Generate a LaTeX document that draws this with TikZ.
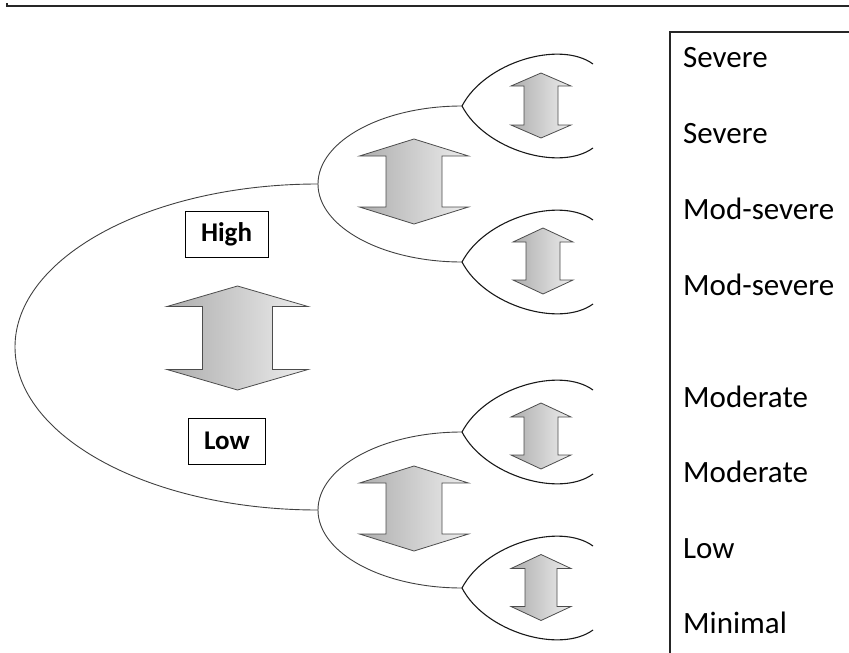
\documentclass[tikz,border=0pt]{standalone}
\usepackage{fontspec}
\setmainfont{Carlito}
\usetikzlibrary{calc}
\tikzstyle{frame}=[draw=black!85, line width=1.2pt]
\tikzstyle{branch}=[draw=black!75, line width=0.9pt]
\tikzstyle{leaf}=[draw=black!90, line width=1.1pt]
\tikzstyle{updown}=[draw=black!70, line width=0.8pt, left color=black!32, right color=black!7]
\tikzstyle{levelbox}=[draw=black, line width=0.9pt, inner xsep=16pt, minimum height=46pt, font=\bfseries\fontsize{27}{31}\selectfont]
\tikzstyle{grade}=[anchor=base west, inner sep=0pt, font=\fontsize{31}{37}\selectfont]

\begin{document}
\begin{tikzpicture}[x=1pt, y=-1pt]
    \useasboundingbox (0,0) rectangle (849,653);

    % frame lines
    \draw[frame] (7,3) -- (7,6) -- (849,6);
    \draw[frame] (670,653) -- (670,32) -- (849,32);

    % branch points
    \foreach \x/\y/\name in {15/347/root, 318/184/H, 318/510/L, 462/106/HH, 462/262/HL, 462/432/LH, 462/588/LL}
        \coordinate (\name) at (\x,\y);

    % first split
    \draw[branch] (H) .. controls ($(H)+(-167.3,0)$) and ($(root)+(0,-90)$) .. (root)
                      .. controls ($(root)+(0,90)$) and ($(L)+(-167.3,0)$) .. (L);

    % second split
    \foreach \top/\mid/\bot in {HH/H/HL, LH/L/LL}
        \draw[branch] (\top) .. controls ($(\top)+(-79.5,0)$) and ($(\mid)+(0,-43)$) .. (\mid)
                             .. controls ($(\mid)+(0,43)$) and ($(\bot)+(-79.5,0)$) .. (\bot);

    % third split
    \foreach \t in {HH, HL, LH, LL}
        \draw[leaf] ($(\t)+(131,-42)$) .. controls ($(\t)+(98,-66)$) and ($(\t)+(23,-44)$) .. (\t)
                    .. controls ($(\t)+(23,44)$) and ($(\t)+(98,66)$) .. ($(\t)+(131,42)$);

    % up-down arrows
    \foreach \cx/\cy/\len/\hw/\sw/\hh in {237.5/338/52/70.5/35/20.5, 414/181.5/42.5/54.5/28/17, 414/508.5/42.5/54.5/28/17,
                                          541/105.5/32.5/30/17/13, 543/261/33/30/17/14, 541/436/33/30/17/14, 541/587.5/33/30/16/14}
        \draw[updown] (\cx,{\cy-\len}) -- ({\cx+\hw},{\cy-\len+\hh}) -- ({\cx+\sw},{\cy-\len+\hh})
                      -- ({\cx+\sw},{\cy+\len-\hh}) -- ({\cx+\hw},{\cy+\len-\hh}) -- (\cx,{\cy+\len})
                      -- ({\cx-\hw},{\cy+\len-\hh}) -- ({\cx-\sw},{\cy+\len-\hh})
                      -- ({\cx-\sw},{\cy-\len+\hh}) -- ({\cx-\hw},{\cy-\len+\hh}) -- cycle;

    % level labels
    \node[levelbox] (high) at (226.5,234) {High};
    \node[levelbox] (low) at (227,441) {Low};

    % outcomes
    \foreach \y/\name/\label in {67/g1/Severe, 143/g2/Severe, 219/g3/Mod-severe, 295/g4/Mod-severe,
                                 407/g5/Moderate, 482/g6/Moderate, 558/g7/Low, 633/g8/Minimal}
        \node[grade] (\name) at (683,\y) {\label};
\end{tikzpicture}
\end{document}
